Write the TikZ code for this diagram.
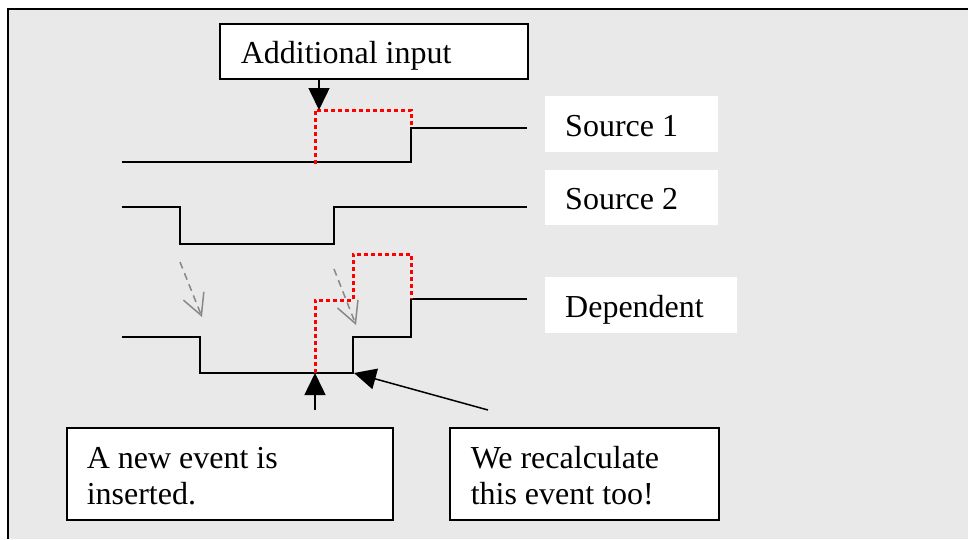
\documentclass[tikz,border=0pt]{standalone}
\usepackage{fontspec}
\setmainfont{Liberation Serif}
\usetikzlibrary{arrows.meta}
\definecolor{bg}{HTML}{E9E9E9}
\definecolor{dotred}{HTML}{FF0000}
\definecolor{ghostgray}{HTML}{888888}
\begin{document}
\begin{tikzpicture}[x=1pt,y=-1pt,
  sig/.style={line width=1.5pt, line join=miter},
  reddot/.style={draw=dotred, line width=3pt, dash pattern=on 4pt off 3pt},
  ghost/.style={draw=ghostgray, line width=1.5pt, dash pattern=on 7pt off 5pt,
    -{Straight Barb[length=21pt,width=22pt]}},
  ptr/.style={line width=1.5pt, -{Triangle[length=22pt,width=21pt]}},
  lbl/.style={font=\fontsize{32}{36}\selectfont, inner sep=0pt, anchor=north west, align=flush left},
  box/.style={lbl, draw, fill=white, line width=1.5pt},
  tag/.style={lbl, fill=white}
]
\useasboundingbox (0,0) rectangle (968,539);
\fill[white] (0,0) rectangle (968,539);
\fill[bg] (8,9) rectangle (968,539);
\draw[line width=2pt] (8,539) -- (8,9) -- (968,9);

% signals
\draw[sig] (122,162) -- (411,162) -- (411,128) -- (527,128);
\draw[sig] (122,207) -- (180,207) -- (180,244) -- (334,244) -- (334,207) -- (527,207);
\draw[sig] (122,337) -- (200,337) -- (200,373) -- (353,373) -- (353,337) -- (411,337) -- (411,299) -- (527,299);

% red dotted modifications
\draw[reddot] (315,164) -- (315,110) -- (411,110) -- (411,128);
\draw[reddot] (315,373) -- (315,300) -- (353,300) -- (353,254) -- (411,254) -- (411,299);

% gray dashed arrows
\coordinate (g1a) at (180,262); \coordinate (g1b) at (202,317);
\coordinate (g2a) at (334,269); \coordinate (g2b) at (356,325);
\draw[ghost] (g1a) -- (g1b);
\draw[ghost] (g2a) -- (g2b);

% labels
\node[box, minimum width=308pt, minimum height=55pt, text width=266pt, text height=25pt, text depth=0pt] (addbox) at (219,23) {Additional input};
\node[tag, minimum width=173pt, minimum height=56pt, text width=133pt, text height=24pt, text depth=0pt] (src1) at (545,96) {Source 1};
\node[tag, minimum width=173pt, minimum height=55pt, text width=133pt, text height=23pt, text depth=0pt] (src2) at (545,170) {Source 2};
\node[tag, minimum width=192pt, minimum height=56pt, text width=152pt, text height=24pt, text depth=0pt] (dep) at (545,277) {Dependent};
\node[box, minimum width=326pt, minimum height=92pt, text width=286pt, text height=26pt, text depth=36pt] (newev) at (66,427) {A new event is\\inserted.};
\node[box, minimum width=269pt, minimum height=92pt, text width=227pt, text height=26pt, text depth=36pt] (recalc) at (449,427) {We recalculate\\this event too!};

% pointers
\coordinate (hit1) at (319,110);
\draw[ptr] (addbox.south -| hit1) -- (hit1);
\coordinate (hit2) at (315,373);
\coordinate (tail2) at (315,410);
\draw[ptr] (tail2) -- (hit2);
\coordinate (hit3) at (354,373);
\coordinate (tail3) at (488,410);
\draw[ptr] (tail3) -- (hit3);
\end{tikzpicture}
\end{document}
